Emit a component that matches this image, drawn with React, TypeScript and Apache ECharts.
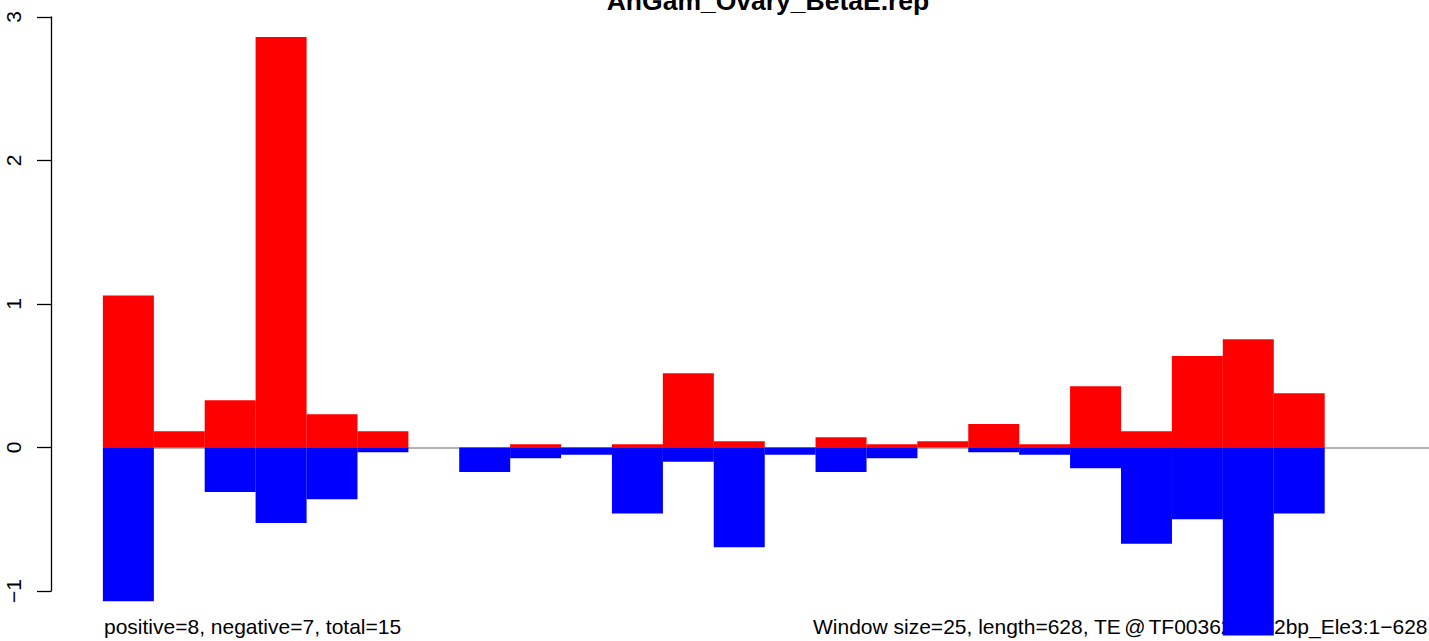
import React, { useEffect, useRef } from "react";
import * as echarts from "echarts";

const windows = [1, 2, 3, 4, 5, 6, 7, 8, 9, 10, 11, 12, 13, 14, 15, 16, 17, 18, 19, 20, 21, 22, 23, 24, 25];
const positiveValues = [1.06, 0.114, 0.33, 2.86, 0.232, 0.114, 0, 0, 0.023, 0, 0.023, 0.518, 0.044, 0, 0.072, 0.023, 0.044, 0.163, 0.023, 0.427, 0.114, 0.637, 0.755, 0.378, 0];
const negativeValues = [-1.071, 0, -0.31, -0.527, -0.36, -0.033, 0, -0.17, -0.075, -0.05, -0.46, -0.1, -0.695, -0.05, -0.17, -0.075, 0, -0.033, -0.05, -0.145, -0.67, -0.5, -1.31, -0.46, 0];
const yTicks = [-1, 0, 1, 2, 3];
const titleText = "AnGam_Ovary_BetaE.rep";
const leftNote = "positive=8, negative=7, total=15";
const rightNoteA = "Window size=25, length=628, TE";
const rightNoteB = "TF003623\u2212m2bp_Ele3:1\u2212628";

const FONT = "'Liberation Sans', Arial, Helvetica, sans-serif";

export default function App() {
  const ref = useRef<HTMLDivElement>(null);
  useEffect(() => {
    if (!ref.current) return;
    const chart = echarts.init(ref.current, undefined, { renderer: "svg" });
    const pos = windows.map((w, i) => [w - 0.5, positiveValues[i]]);
    const neg = windows.map((w, i) => [w - 0.5, negativeValues[i]]);
    chart.setOption({
      animation: false,
      backgroundColor: "#ffffff",
      grid: { left: 51, width: 1378, top: 17, height: 574, containLabel: false },
      xAxis: {
        type: "value",
        min: -1.02,
        max: 26.05,
        show: false,
      },
      yAxis: {
        type: "value",
        min: yTicks[0],
        max: yTicks[yTicks.length - 1],
        interval: 1,
        axisLine: { show: true, onZero: false, lineStyle: { color: "#000", width: 1.3 } },
        axisTick: { show: true, inside: false, length: 14, lineStyle: { color: "#000", width: 1.3 } },
        splitLine: { show: false },
        axisLabel: {
          rotate: 90,
          margin: 27,
          fontSize: 21,
          color: "#000",
          fontFamily: FONT,
          formatter: (v: number) => (v < 0 ? "\u2212" + Math.abs(v) : String(v)),
        },
      },
      series: [
        {
          type: "bar",
          name: "positive",
          data: pos,
          barWidth: 51,
          barGap: "-100%",
          clip: false,
          z: 2,
          itemStyle: { color: "#ff0000" },
          markLine: {
            silent: true,
            symbol: "none",
            z: 1,
            label: { show: false },
            lineStyle: { color: "#999999", width: 1.6, type: "solid" },
            data: [[{ coord: [0, 0] }, { coord: [26.05, 0] }]],
          },
        },
        {
          type: "bar",
          name: "negative",
          data: neg,
          barWidth: 51,
          barGap: "-100%",
          clip: false,
          z: 3,
          itemStyle: { color: "#0000ff" },
        },
      ],
      graphic: [
        {
          type: "text",
          z: 0,
          x: 768,
          y: 1,
          style: {
            text: titleText,
            font: `bold 26.5px ${FONT}`,
            fill: "#000",
            align: "center",
            verticalAlign: "middle",
          },
        },
        {
          type: "text",
          z: 0,
          x: 104,
          y: 626,
          style: {
            text: leftNote,
            font: `21px ${FONT}`,
            fill: "#000",
            align: "left",
            verticalAlign: "middle",
          },
        },
        {
          type: "text",
          z: 0,
          x: 813,
          y: 626,
          style: {
            text: rightNoteA + "{at|@}" + rightNoteB,
            font: `21px ${FONT}`,
            fill: "#000",
            align: "left",
            verticalAlign: "middle",
            rich: {
              at: { font: `21px ${FONT}`, fill: "#000", padding: [0, 3, 0, 3] },
            },
          },
        },
      ],
    });
    return () => chart.dispose();
  }, []);
  return (
    <div
      ref={ref}
      style={{ position: "fixed", left: 0, top: 0, width: 1429, height: 641 }}
    />
  );
}
